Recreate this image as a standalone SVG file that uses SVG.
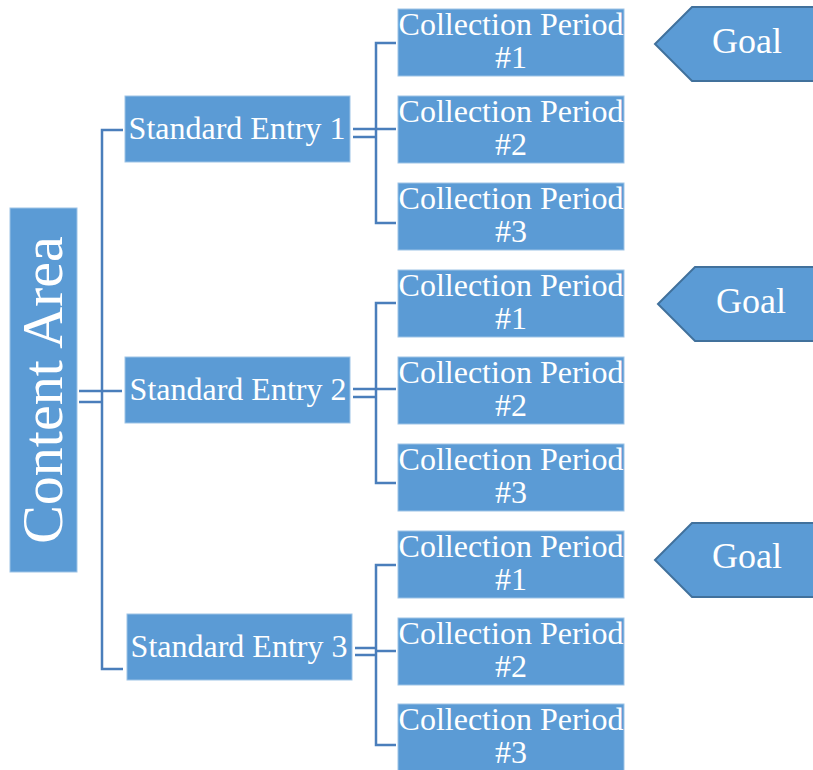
<svg xmlns="http://www.w3.org/2000/svg" width="813" height="770" viewBox="0 0 813 770">
<style>
.box{fill:#5B9BD5;stroke:#9DC3E6;stroke-width:1}
.goal{fill:#5B9BD5;stroke:#41719C;stroke-width:2}
.t{font-family:"Liberation Serif","Times New Roman",serif;fill:#fff;text-anchor:middle}
.t32{font-size:32px}
.t36{font-size:36px}
.conn path{fill:none;stroke:#4A7EBB;stroke-width:2.5}
</style>
<rect width="813" height="770" fill="#fff"/>
<g class="conn">
<path d="M79,391 H122"/>
<path d="M79,402 H102"/>
<path d="M123,130 H102 V669 H123"/>
<path d="M353,129 H396"/>
<path d="M353,137 H376"/>
<path d="M396,43 H376 V223 H396"/>
<path d="M353,389 H396"/>
<path d="M353,397 H376"/>
<path d="M396,303 H376 V483 H396"/>
<path d="M355,648 H376"/>
<path d="M355,655 H376"/>
<path d="M376,651 H396"/>
<path d="M396,565 H376 V745 H396"/>
</g>
<g id="content-area">
<rect class="box" x="10" y="208" width="67" height="364"/>
<text class="t" font-size="58" transform="translate(62,390) rotate(-90)">Content Area</text>
</g>
<g id="se1">
<rect class="box" x="125" y="96" width="225" height="66"/>
<text class="t t32" x="237" y="139">Standard Entry 1</text>
</g>
<g id="se2">
<rect class="box" x="125" y="357" width="225" height="66"/>
<text class="t t32" x="238" y="400">Standard Entry 2</text>
</g>
<g id="se3">
<rect class="box" x="127" y="614" width="225" height="66"/>
<text class="t t32" x="239" y="657">Standard Entry 3</text>
</g>
<g id="cp1-1"><rect class="box" x="398" y="9" width="226" height="67"/><text class="t t32" x="511" y="35">Collection Period</text><text class="t t32" x="511" y="68">#1</text></g>
<g id="cp1-2"><rect class="box" x="398" y="96" width="226" height="67"/><text class="t t32" x="511" y="122">Collection Period</text><text class="t t32" x="511" y="155">#2</text></g>
<g id="cp1-3"><rect class="box" x="398" y="183" width="226" height="67"/><text class="t t32" x="511" y="209">Collection Period</text><text class="t t32" x="511" y="242">#3</text></g>
<g id="cp2-1"><rect class="box" x="398" y="270" width="226" height="67"/><text class="t t32" x="511" y="296">Collection Period</text><text class="t t32" x="511" y="329">#1</text></g>
<g id="cp2-2"><rect class="box" x="398" y="357" width="226" height="67"/><text class="t t32" x="511" y="383">Collection Period</text><text class="t t32" x="511" y="416">#2</text></g>
<g id="cp2-3"><rect class="box" x="398" y="444" width="226" height="67"/><text class="t t32" x="511" y="470">Collection Period</text><text class="t t32" x="511" y="503">#3</text></g>
<g id="cp3-1"><rect class="box" x="398" y="531" width="226" height="67"/><text class="t t32" x="511" y="557">Collection Period</text><text class="t t32" x="511" y="590">#1</text></g>
<g id="cp3-2"><rect class="box" x="398" y="618" width="226" height="67"/><text class="t t32" x="511" y="644">Collection Period</text><text class="t t32" x="511" y="677">#2</text></g>
<g id="cp3-3"><rect class="box" x="398" y="704" width="226" height="67"/><text class="t t32" x="511" y="730">Collection Period</text><text class="t t32" x="511" y="763">#3</text></g>
<g id="goal1">
<polygon class="goal" points="655,44 692,7 816,7 816,81 692,81"/>
<text class="t t36" x="747" y="53">Goal</text>
</g>
<g id="goal2">
<polygon class="goal" points="658,304 695,267 816,267 816,341 695,341"/>
<text class="t t36" x="751" y="313">Goal</text>
</g>
<g id="goal3">
<polygon class="goal" points="655,560 692,523 816,523 816,597 692,597"/>
<text class="t t36" x="747" y="568">Goal</text>
</g>
</svg>
